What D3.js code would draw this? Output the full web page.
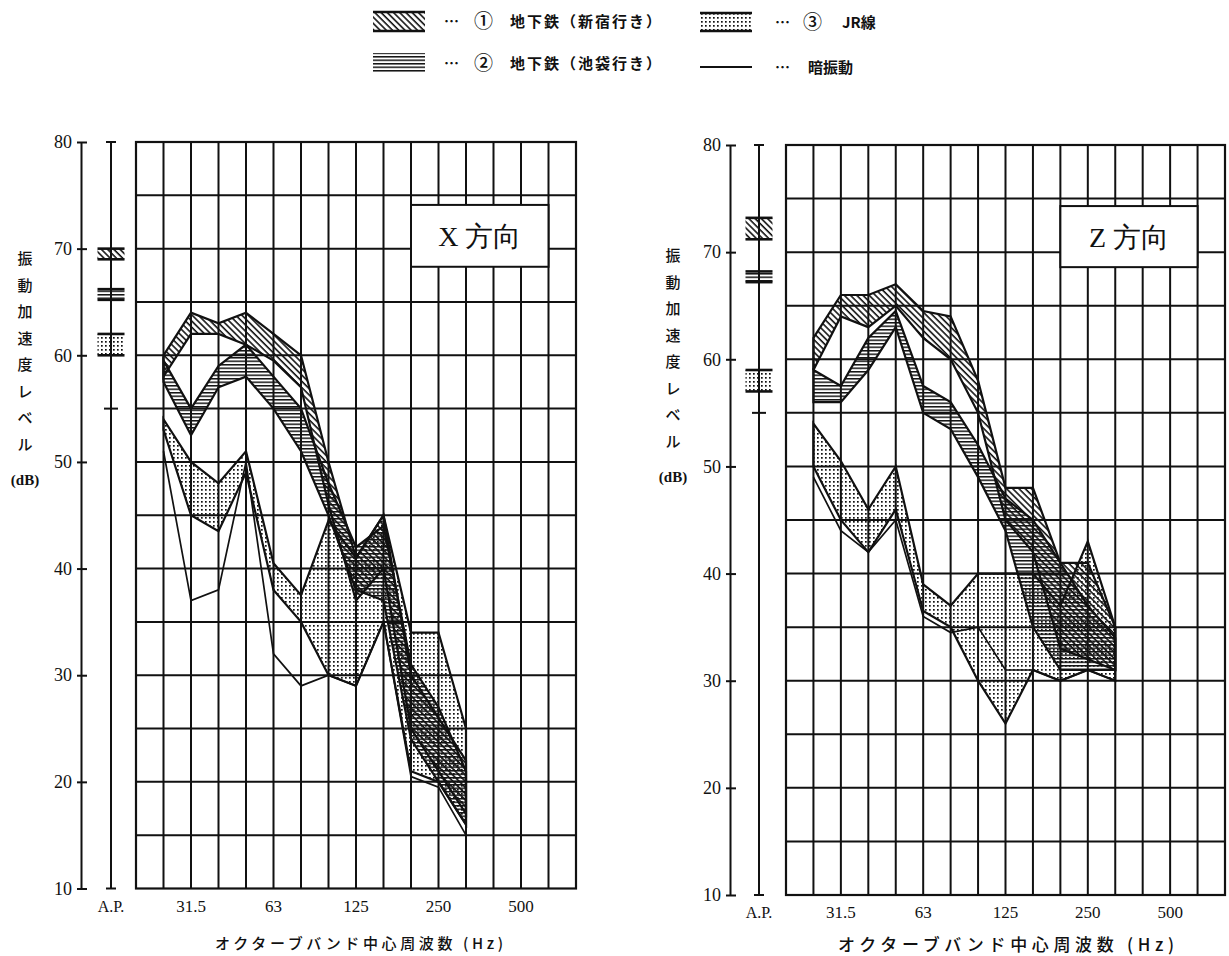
<!DOCTYPE html>
<html>
<head>
<meta charset="utf-8">
<script src="https://cdn.jsdelivr.net/npm/d3@7"></script>
<style>
  body { margin: 0; background: #fff; }
  svg { display: block; }
</style>
</head>
<body>
<div id="chart_parent"></div>
<script>
// 1/3 octave band centre frequencies on the x axis (Hz)
const bandFreqs = ['20', '25', '31.5', '40', '50', '63', '80', '100', '125', '160', '200', '250', '315', '400', '500', '630', '800'];
const dataFreqs = ['25', '31.5', '40', '50', '63', '80', '100', '125', '160', '200', '250', '315'];
const labelFreqs = ['31.5', '63', '125', '250', '500'];
const yTicks = [10, 20, 30, 40, 50, 60, 70, 80];
const gridLevels = [15, 20, 25, 30, 35, 40, 45, 50, 55, 60, 65, 70, 75];

// X direction (upper / lower edge of each band, dB)
const xShinjukuHi = [60, 64, 63, 64, 62, 60, 50, 41, 45, 30, 26, 22];
const xShinjukuLo = [58, 62, 62, 61, 59.5, 57, 46, 37, 40, 25, 21, 17];
const xIkebukuroHi = [59.5, 55, 59, 61, 58, 55, 48, 42, 44, 31, 27, 21];
const xIkebukuroLo = [57.5, 52.5, 57, 58, 55, 51, 45, 38, 37, 24, 20, 16];
const xJrHi = [54, 50, 48, 51, 40.5, 37.5, 44.5, 41, 45, 34, 34, 25];
const xJrLo = [53, 45, 43.5, 49, 38, 35, 30, 29, 35, 21, 20, 16];
const xBackground = [51, 37, 38, 50, 32, 29, 30, 29, 35, 20.5, 19.5, 15];
const xApShinjuku = [69, 70];
const xApIkebukuro = [65.2, 66.2];
const xApJr = [60, 62];
const xApBackground = 55;

// Z direction
const zShinjukuHi = [62, 66, 66, 67, 64.5, 64, 58, 48, 48, 41, 41, 35];
const zShinjukuLo = [59, 64, 63, 65, 62, 60, 55, 45, 42, 33, 32, 31];
const zIkebukuroHi = [59, 57.5, 62, 64.5, 57.5, 56, 52, 47, 45, 41, 37, 34];
const zIkebukuroLo = [56, 56, 59, 63, 55, 53.5, 49, 44, 35, 31, 31, 31];
const zJrHi = [54, 50.5, 46, 50, 39, 37, 40, 40, 40, 37, 43, 35];
const zJrLo = [50, 45, 42, 46, 36.5, 35, 30, 26, 31, 30, 31, 30];
const zBackground = [49, 44, 42, 45, 36, 34.5, 35, 31, 31, 30, 31, 30];
const zApShinjuku = [71.2, 73.2];
const zApIkebukuro = [67.2, 68.2];
const zApJr = [57, 59];
const zApBackground = 55;

const INK = '#111';
const SERIF = '"Liberation Serif", "Times New Roman", serif';
const JP = '"Noto Sans CJK JP", sans-serif';

const svg = d3.select('#chart_parent').append('svg')
    .attr('width', 1229)
    .attr('height', 956);

// fill patterns
const defs = svg.append('defs');
const diag = defs.append('pattern')
    .attr('id', 'pat-diag')
    .attr('patternUnits', 'userSpaceOnUse')
    .attr('width', 4.4).attr('height', 4.4)
    .attr('patternTransform', 'rotate(-45)');
diag.append('line')
    .attr('x1', 1).attr('y1', 0).attr('x2', 1).attr('y2', 4.4)
    .attr('stroke', INK).attr('stroke-width', 1.6);

const horiz = defs.append('pattern')
    .attr('id', 'pat-horiz')
    .attr('patternUnits', 'userSpaceOnUse')
    .attr('width', 6).attr('height', 3.5);
horiz.append('rect')
    .attr('x', 0).attr('y', 0).attr('width', 6).attr('height', 1.5)
    .attr('fill', INK);

const dots = defs.append('pattern')
    .attr('id', 'pat-dots')
    .attr('patternUnits', 'userSpaceOnUse')
    .attr('width', 4).attr('height', 4);
dots.append('rect')
    .attr('x', 1).attr('y', 1).attr('width', 1.7).attr('height', 1.7)
    .attr('fill', INK);

function drawPanel(cfg) {
    const g = svg.append('g');
    const x = d3.scalePoint().domain(bandFreqs).range([cfg.left, cfg.right]);
    const y = d3.scaleLinear().domain([10, 80]).range([cfg.bottom, cfg.top]);

    // grid
    g.append('g').selectAll('line.h')
        .data(gridLevels)
        .join('line')
        .attr('x1', cfg.left).attr('x2', cfg.right)
        .attr('y1', d => y(d)).attr('y2', d => y(d))
        .attr('stroke', INK).attr('stroke-width', 2);
    g.append('g').selectAll('line.v')
        .data(bandFreqs)
        .join('line')
        .attr('x1', d => x(d)).attr('x2', d => x(d))
        .attr('y1', y(80)).attr('y2', y(10))
        .attr('stroke', INK).attr('stroke-width', 2);
    g.append('rect')
        .attr('x', cfg.left).attr('y', y(80))
        .attr('width', cfg.right - cfg.left).attr('height', y(10) - y(80))
        .attr('fill', 'none').attr('stroke', INK).attr('stroke-width', 2.2);

    // direction label box
    g.append('rect')
        .attr('x', x('200')).attr('y', y(cfg.boxTop))
        .attr('width', x('630') - x('200')).attr('height', y(cfg.boxBottom) - y(cfg.boxTop))
        .attr('fill', '#fff').attr('stroke', INK).attr('stroke-width', 2);
    g.append('text')
        .attr('x', (x('200') + x('630')) / 2)
        .attr('y', (y(cfg.boxTop) + y(cfg.boxBottom)) / 2 + 10)
        .attr('text-anchor', 'middle')
        .attr('font-family', SERIF)
        .attr('font-size', 28)
        .attr('fill', INK)
        .text(cfg.title);

    // bands
    const area = d3.area()
        .x((d, i) => x(dataFreqs[i]))
        .y0(d => y(d[1]))
        .y1(d => y(d[0]));
    cfg.bands.forEach(b => {
        const rows = b.hi.map((v, i) => [v, b.lo[i]]);
        g.append('path')
            .datum(rows)
            .attr('d', area)
            .attr('fill', `url(#${b.pattern})`)
            .attr('stroke', INK)
            .attr('stroke-width', 2.2)
            .attr('stroke-linejoin', 'miter');
    });

    const line = d3.line()
        .x((d, i) => x(dataFreqs[i]))
        .y(d => y(d));
    g.append('path')
        .datum(cfg.background)
        .attr('d', line)
        .attr('fill', 'none')
        .attr('stroke', INK)
        .attr('stroke-width', 1.7);

    // level axis
    const yAxis = d3.axisLeft(y)
        .tickValues(yTicks)
        .tickSize(4)
        .tickSizeOuter(0)
        .tickPadding(5)
        .tickFormat(d3.format('d'));
    const axisG = g.append('g')
        .attr('transform', `translate(${cfg.axisX},0)`)
        .call(yAxis);
    axisG.select('.domain').attr('stroke', INK).attr('stroke-width', 2);
    axisG.selectAll('.tick line').attr('x1', 6).attr('stroke', INK).attr('stroke-width', 2);
    axisG.selectAll('.tick text')
        .attr('font-family', SERIF)
        .attr('font-size', 18)
        .attr('fill', INK);

    // A.P. (overall) column
    const ap = g.append('g');
    ap.append('line')
        .attr('x1', cfg.apX).attr('x2', cfg.apX)
        .attr('y1', y(80)).attr('y2', y(10))
        .attr('stroke', INK).attr('stroke-width', 2);
    [80, 10].forEach(v => {
        ap.append('line')
            .attr('x1', cfg.apX - 5).attr('x2', cfg.apX + 5)
            .attr('y1', y(v)).attr('y2', y(v))
            .attr('stroke', INK).attr('stroke-width', 2);
    });
    ap.append('line')
        .attr('x1', cfg.apX - 7).attr('x2', cfg.apX + 7)
        .attr('y1', y(cfg.apBackground)).attr('y2', y(cfg.apBackground))
        .attr('stroke', INK).attr('stroke-width', 2);
    cfg.apBars.forEach(b => {
        ap.append('rect')
            .attr('x', cfg.apX - 13.5).attr('width', 27)
            .attr('y', y(b.range[1])).attr('height', y(b.range[0]) - y(b.range[1]))
            .attr('fill', `url(#${b.pattern})`);
        b.range.forEach(v => {
            ap.append('line')
                .attr('x1', cfg.apX - 13.5).attr('x2', cfg.apX + 13.5)
                .attr('y1', y(v)).attr('y2', y(v))
                .attr('stroke', INK).attr('stroke-width', 2.6);
        });
    });

    // frequency labels
    g.append('g').selectAll('text')
        .data(labelFreqs)
        .join('text')
        .attr('x', d => x(d))
        .attr('y', cfg.bottom + 23)
        .attr('text-anchor', 'middle')
        .attr('font-family', SERIF)
        .attr('font-size', 17)
        .attr('fill', INK)
        .text(d => d);
    g.append('text')
        .attr('x', cfg.apX)
        .attr('y', cfg.bottom + 23)
        .attr('text-anchor', 'middle')
        .attr('font-family', SERIF)
        .attr('font-size', 16)
        .attr('fill', INK)
        .text('A.P.');

    // axis titles
    g.append('text')
        .attr('x', cfg.xTitleX - cfg.xTitleLen / 2)
        .attr('y', cfg.xTitleY)
        .attr('textLength', cfg.xTitleLen)
        .attr('lengthAdjust', 'spacing')
        .attr('font-family', JP)
        .attr('font-weight', 500)
        .attr('font-size', cfg.xTitleSize)
        .attr('fill', INK)
        .text('オクターブバンド中心周波数 (Hz)');

    const yTitle = g.append('text')
        .attr('font-family', JP)
        .attr('font-weight', 500)
        .attr('font-size', 15)
        .attr('text-anchor', 'middle')
        .attr('fill', INK);
    Array.from('振動加速度レベル').forEach((ch, i) => {
        yTitle.append('tspan')
            .attr('x', cfg.yTitleX)
            .attr('y', cfg.yTitleTop + i * 26.5)
            .text(ch);
    });
    g.append('text')
        .attr('x', cfg.yTitleX)
        .attr('y', cfg.yTitleTop + 8 * 26.5 + 9)
        .attr('text-anchor', 'middle')
        .attr('font-family', SERIF)
        .attr('font-weight', 'bold')
        .attr('font-size', 15)
        .attr('fill', INK)
        .text('(dB)');
}

drawPanel({
    left: 136, right: 576, top: 142, bottom: 888.5,
    axisX: 81, apX: 111,
    title: 'X 方向', boxTop: 74.1, boxBottom: 68.3,
    xTitleX: 359, xTitleY: 949, xTitleLen: 288, xTitleSize: 15,
    yTitleX: 25, yTitleTop: 264,
    bands: [
        { hi: xJrHi, lo: xJrLo, pattern: 'pat-dots' },
        { hi: xIkebukuroHi, lo: xIkebukuroLo, pattern: 'pat-horiz' },
        { hi: xShinjukuHi, lo: xShinjukuLo, pattern: 'pat-diag' },
    ],
    background: xBackground,
    apBars: [
        { range: xApShinjuku, pattern: 'pat-diag' },
        { range: xApIkebukuro, pattern: 'pat-horiz' },
        { range: xApJr, pattern: 'pat-dots' },
    ],
    apBackground: xApBackground,
});

drawPanel({
    left: 786, right: 1225, top: 145, bottom: 895,
    axisX: 730, apX: 759,
    title: 'Z 方向', boxTop: 74.3, boxBottom: 68.6,
    xTitleX: 1006, xTitleY: 951, xTitleLen: 336, xTitleSize: 17,
    yTitleX: 673, yTitleTop: 261,
    bands: [
        { hi: zJrHi, lo: zJrLo, pattern: 'pat-dots' },
        { hi: zIkebukuroHi, lo: zIkebukuroLo, pattern: 'pat-horiz' },
        { hi: zShinjukuHi, lo: zShinjukuLo, pattern: 'pat-diag' },
    ],
    background: zBackground,
    apBars: [
        { range: zApShinjuku, pattern: 'pat-diag' },
        { range: zApIkebukuro, pattern: 'pat-horiz' },
        { range: zApJr, pattern: 'pat-dots' },
    ],
    apBackground: zApBackground,
});

// legend
const legendItems = [
    { x: 373, y: 12, h: 19, pattern: 'pat-diag', edges: true, dotsX: 444, num: '①', numX: 474, name: '地下鉄（新宿行き）', nameX: 510 },
    { x: 373, y: 53, h: 20, pattern: 'pat-horiz', edges: false, dotsX: 444, num: '②', numX: 474, name: '地下鉄（池袋行き）', nameX: 510 },
    { x: 700, y: 13, h: 18, pattern: 'pat-dots', edges: true, dotsX: 775, num: '③', numX: 803, name: 'JR線', nameX: 842 },
    { x: 700, y: 67, h: 0, pattern: null, edges: false, dotsX: 775, num: '', numX: 0, name: '暗振動', nameX: 808 },
];
const legend = svg.append('g');
legendItems.forEach(it => {
    if (it.pattern) {
        legend.append('rect')
            .attr('x', it.x).attr('y', it.y)
            .attr('width', 52).attr('height', it.h)
            .attr('fill', `url(#${it.pattern})`);
        if (it.edges) {
            [it.y, it.y + it.h].forEach(v => {
                legend.append('line')
                    .attr('x1', it.x).attr('x2', it.x + 52)
                    .attr('y1', v).attr('y2', v)
                    .attr('stroke', INK).attr('stroke-width', 2.4);
            });
        }
    } else {
        legend.append('line')
            .attr('x1', it.x).attr('x2', it.x + 52)
            .attr('y1', it.y).attr('y2', it.y)
            .attr('stroke', INK).attr('stroke-width', 2);
    }
    const ty = (it.pattern ? it.y + it.h / 2 : it.y) + 5.5;
    legend.append('text')
        .attr('x', it.dotsX).attr('y', ty)
        .attr('font-family', JP).attr('font-weight', 700).attr('font-size', 15)
        .attr('fill', INK)
        .text('…');
    if (it.num) {
        legend.append('text')
            .attr('x', it.numX).attr('y', ty + 1)
            .attr('font-family', JP).attr('font-weight', 500).attr('font-size', 19)
            .attr('fill', INK)
            .text(it.num);
    }
    legend.append('text')
        .attr('x', it.nameX).attr('y', ty)
        .attr('font-family', JP).attr('font-weight', 700).attr('font-size', 15)
        .attr('letter-spacing', it.name.length > 3 ? 2 : 0)
        .attr('fill', INK)
        .text(it.name);
});
</script>
</body>
</html>
